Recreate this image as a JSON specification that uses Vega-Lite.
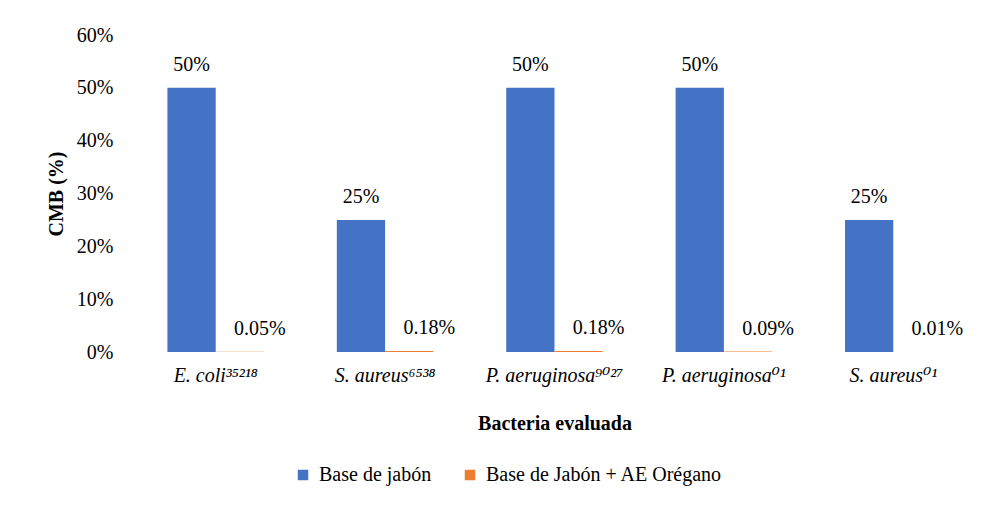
{
  "$schema": "https://vega.github.io/schema/vega-lite/v6.json",
  "width": 847,
  "height": 317,
  "autosize": {"type": "none"},
  "padding": {"left": 131, "top": 35, "right": 17, "bottom": 153},
  "background": "white",
  "config": {
    "view": {"stroke": null},
    "font": "Liberation Serif, DejaVu Serif, serif",
    "text": {"font": "Liberation Serif, DejaVu Serif, serif"}
  },
  "data": {
    "values": [
      {"bacteria": "E. coli³⁵²¹⁸", "serie": "Base de jabón", "cmb": 0.50, "label": "50%"},
      {"bacteria": "E. coli³⁵²¹⁸", "serie": "Base de Jabón + AE Orégano", "cmb": 0.0005, "label": "0.05%"},
      {"bacteria": "S. aureus⁶⁵³⁸", "serie": "Base de jabón", "cmb": 0.25, "label": "25%"},
      {"bacteria": "S. aureus⁶⁵³⁸", "serie": "Base de Jabón + AE Orégano", "cmb": 0.0018, "label": "0.18%"},
      {"bacteria": "P. aeruginosa⁹⁰²⁷", "serie": "Base de jabón", "cmb": 0.50, "label": "50%"},
      {"bacteria": "P. aeruginosa⁹⁰²⁷", "serie": "Base de Jabón + AE Orégano", "cmb": 0.0018, "label": "0.18%"},
      {"bacteria": "P. aeruginosa⁰¹", "serie": "Base de jabón", "cmb": 0.50, "label": "50%"},
      {"bacteria": "P. aeruginosa⁰¹", "serie": "Base de Jabón + AE Orégano", "cmb": 0.0009, "label": "0.09%"},
      {"bacteria": "S. aureus⁰¹", "serie": "Base de jabón", "cmb": 0.25, "label": "25%"},
      {"bacteria": "S. aureus⁰¹", "serie": "Base de Jabón + AE Orégano", "cmb": 0.0001, "label": "0.01%"}
    ]
  },
  "encoding": {
    "x": {
      "field": "bacteria",
      "type": "nominal",
      "sort": null,
      "scale": {"paddingInner": 0.43, "paddingOuter": 0.215},
      "axis": {
        "title": "Bacteria evaluada",
        "titleFont": "Liberation Serif, DejaVu Serif, serif",
        "titleFontSize": 20,
        "titleFontWeight": "bold",
        "titleColor": "#000000",
        "titlePadding": 28,
        "labelAngle": 0,
        "labelFont": "Liberation Serif, DejaVu Serif, serif",
        "labelFontSize": 20,
        "labelFontStyle": "italic",
        "labelColor": "#000000",
        "labelPadding": 13,
        "labelLimit": 300,
        "ticks": false,
        "domain": false,
        "grid": false
      }
    },
    "xOffset": {"field": "serie", "type": "nominal", "sort": ["Base de jabón", "Base de Jabón + AE Orégano"]},
    "y": {
      "field": "cmb",
      "type": "quantitative",
      "scale": {"domain": [0, 0.6], "nice": false},
      "axis": {
        "title": "CMB (%)",
        "titleFont": "Liberation Serif, DejaVu Serif, serif",
        "titleFontSize": 20,
        "titleFontWeight": "bold",
        "titleColor": "#000000",
        "titlePadding": 10,
        "format": ".0%",
        "values": [0, 0.1, 0.2, 0.3, 0.4, 0.5, 0.6],
        "labelFont": "Liberation Serif, DejaVu Serif, serif",
        "labelFontSize": 20,
        "labelColor": "#000000",
        "labelPadding": 18,
        "ticks": false,
        "domain": false,
        "grid": false
      }
    }
  },
  "layer": [
    {
      "mark": {"type": "bar"},
      "encoding": {
        "color": {
          "field": "serie",
          "type": "nominal",
          "sort": ["Base de jabón", "Base de Jabón + AE Orégano"],
          "scale": {"range": ["#4472C4", "#ED7D31"]},
          "legend": {
            "title": null,
            "orient": "none",
            "legendX": 162,
            "legendY": 430,
            "direction": "horizontal",
            "symbolType": "square",
            "symbolSize": 110,
            "symbolStrokeWidth": 0,
            "labelFont": "Liberation Serif, DejaVu Serif, serif",
            "labelFontSize": 20,
            "labelColor": "#000000",
            "labelLimit": 400,
            "labelOffset": 6,
            "columnPadding": 28
          }
        }
      }
    },
    {
      "transform": [{"filter": "datum.serie === 'Base de jabón'"}],
      "mark": {"type": "text", "baseline": "alphabetic", "dy": -17, "fontSize": 20, "color": "#000000", "font": "Liberation Serif, DejaVu Serif, serif"},
      "encoding": {"text": {"field": "label"}}
    },
    {
      "transform": [{"filter": "datum.serie !== 'Base de jabón'"}],
      "mark": {"type": "text", "baseline": "alphabetic", "dy": -17, "dx": 20, "fontSize": 20, "color": "#000000", "font": "Liberation Serif, DejaVu Serif, serif"},
      "encoding": {"text": {"field": "label"}}
    }
  ]
}
